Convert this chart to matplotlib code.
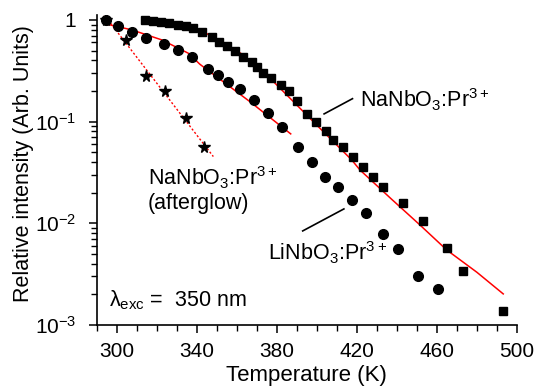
import matplotlib
matplotlib.use('Agg')
import matplotlib.pyplot as plt
from matplotlib.ticker import LogLocator, FixedLocator, FixedFormatter, MultipleLocator, NullFormatter

plt.rcParams['font.family'] = 'Liberation Sans'
plt.rcParams['mathtext.fontset'] = 'custom'
plt.rcParams['mathtext.rm'] = 'Liberation Sans'
plt.rcParams['mathtext.default'] = 'regular'

# NaNbO3:Pr3+ (squares)
t_na = [314, 318.2, 322, 326, 330.4, 334.4, 338.2, 342.4, 347.4, 351.2, 355.2, 359, 363.2,
        367.4, 370.2, 373.2, 377, 381.9, 386.2, 390.2, 395.2, 399.4, 404.4, 408.2, 413.2,
        418.2, 423.2, 428.2, 433.2, 442.9, 453.2, 464.9, 472.9, 493.2]
i_na = [1.0, 0.984, 0.962, 0.929, 0.893, 0.873, 0.828, 0.767, 0.686, 0.612, 0.558, 0.499, 0.436,
        0.384, 0.343, 0.303, 0.267, 0.230, 0.202, 0.160, 0.119, 0.100, 0.081, 0.066, 0.056,
        0.045, 0.0356, 0.0284, 0.0226, 0.0157, 0.0106, 0.0057, 0.0034, 0.00138]

# LiNbO3:Pr3+ (circles)
t_li = [294.4, 300.7, 307.4, 314.5, 323.5, 330.7, 337.7, 345.7, 350.7, 355.7, 361.5, 368.7,
        375.7, 382.7, 390.7, 397.7, 404, 410.7, 417.7, 424.7, 432.9, 440.7, 450.7, 460.7]
i_li = [1.0, 0.873, 0.767, 0.670, 0.577, 0.507, 0.436, 0.327, 0.288, 0.247, 0.208, 0.162,
        0.122, 0.0887, 0.0557, 0.0396, 0.0288, 0.0225, 0.0169, 0.0126, 0.0079, 0.0056, 0.00305, 0.00224]

# NaNbO3:Pr3+ afterglow (stars)
t_ag = [294.4, 304.4, 314.4, 324, 334.4, 343.5]
i_ag = [1.0, 0.636, 0.283, 0.202, 0.108, 0.0568]

# fitted curves
t_fit_na = [314, 330, 341.5, 349, 363.2, 377.4, 384.9, 400, 417.4, 421.5, 437, 451.5, 464.9, 480, 493.2]
i_fit_na = [0.977, 0.87, 0.798, 0.661, 0.453, 0.257, 0.183, 0.092, 0.042, 0.0335, 0.0175, 0.00964,
            0.00547, 0.0033, 0.00202]
t_fit_li = [294.9, 307.4, 322.4, 335.7, 341.5, 361.5, 366.5, 386.9]
i_fit_li = [0.908, 0.798, 0.636, 0.470, 0.366, 0.186, 0.157, 0.0757]
t_fit_ag = [290.4, 348.2]
i_fit_ag = [1.35, 0.0453]

x_ticks = [300, 340, 380, 420, 460, 500]
y_ticks = [1e-3, 1e-2, 1e-1, 1]
y_labels = ['10$^{-3}$', '10$^{-2}$', '10$^{-1}$', '1']

fig = plt.figure(figsize=(5.51, 3.92), dpi=100)
ax = fig.add_axes([0.176, 0.171, 0.762, 0.791])

ax.plot(t_fit_ag, i_fit_ag, color='red', lw=1, ls=(0, (1.5, 1.5)))
ax.plot(t_fit_li, i_fit_li, color='red', lw=1.1)
ax.plot(t_fit_na, i_fit_na, color='red', lw=1.1)
ax.plot(t_na, i_na, 's', color='black', ms=6.3, ls='none')
ax.plot(t_li, i_li, 'o', color='black', ms=7, ls='none')
ax.plot(t_ag, i_ag, '*', color='black', ms=8.5, ls='none')

ax.set_yscale('log')
ax.set_xlim(290, 500)
ax.set_ylim(1e-3, 1.12)

ax.xaxis.set_major_locator(FixedLocator(x_ticks))
ax.xaxis.set_minor_locator(MultipleLocator(10))
ax.yaxis.set_major_locator(FixedLocator(y_ticks))
ax.yaxis.set_major_formatter(FixedFormatter(y_labels))
ax.yaxis.set_minor_locator(LogLocator(base=10, subs=range(2, 10)))
ax.yaxis.set_minor_formatter(NullFormatter())

ax.spines['top'].set_visible(False)
ax.spines['right'].set_visible(False)
ax.spines['left'].set_linewidth(1.2)
ax.spines['bottom'].set_linewidth(1.2)
ax.tick_params(which='major', length=6, width=1.1, labelsize=15)
ax.tick_params(which='minor', length=4, width=1.0)
ax.tick_params(axis='x', which='major', pad=6)
ax.tick_params(axis='y', which='major', pad=9)

ax.set_xlabel('Temperature (K)', fontsize=16, labelpad=3)
ax.set_ylabel('Relative intensity (Arb. Units)', fontsize=15.5)
ax.yaxis.set_label_coords(-0.15, 0.52)

fs = 15.5
ax.text(421.5, 0.163, 'NaNbO$_3$:Pr$^{3+}$', fontsize=fs, va='center')
ax.plot([403.6, 417.8], [0.119, 0.168], color='black', lw=1.2)
ax.text(315.5, 0.0279, 'NaNbO$_3$:Pr$^{3+}$', fontsize=fs, va='center')
ax.text(315.5, 0.0158, '(afterglow)', fontsize=fs, va='center')
ax.text(375.5, 0.0051, 'LiNbO$_3$:Pr$^{3+}$', fontsize=fs, va='center')
ax.plot([392.9, 413.5], [0.00841, 0.01384], color='black', lw=1.2)
ax.text(296, 0.00176, 'λ$_{exc}$ =  350 nm', fontsize=fs, va='center')

fig.savefig('out.png', dpi=100)
